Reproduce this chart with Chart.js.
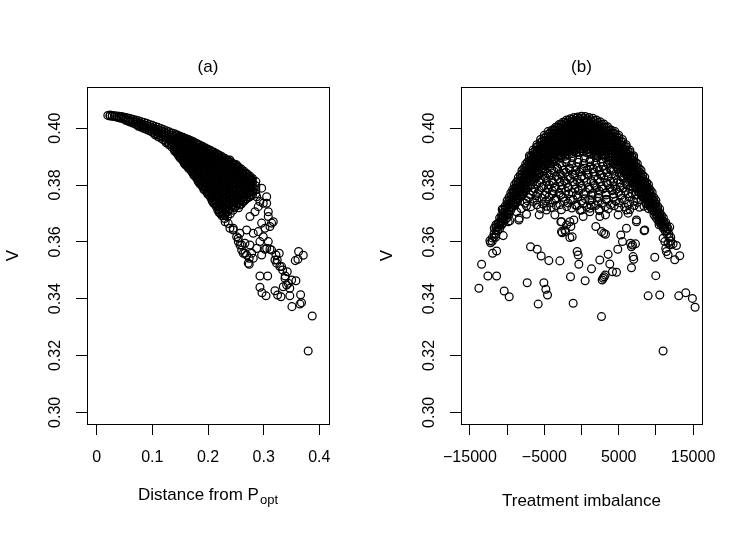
<!DOCTYPE html>
<html>
<head>
<meta charset="utf-8">
<script src="https://cdn.jsdelivr.net/npm/chart.js@4.4.1/dist/chart.umd.min.js"></script>
<style>
  html, body { margin: 0; padding: 0; background: #fff; }
  #wrap { position: relative; width: 747px; height: 534px; }
  .panel { position: absolute; top: 0; height: 534px; }
  #pa { left: 0; width: 373px; }
  #pb { left: 373px; width: 374px; }
</style>
</head>
<body>
<div id="wrap">
  <div class="panel" id="pa"><canvas id="ca"></canvas></div>
  <div class="panel" id="pb"><canvas id="cb"></canvas></div>
</div>
<script>
// Two R-style scatter panels: V against distance from P_opt (a) and against treatment imbalance (b).

const FONT = '"Liberation Sans", Arial, Helvetica, sans-serif';

// shared y axis
const vTicks = [0.30, 0.32, 0.34, 0.36, 0.38, 0.40];
const vTickLabels = ['0.30', '0.32', '0.34', '0.36', '0.38', '0.40'];

// panel (a) x axis
const distTicks = [0, 0.1, 0.2, 0.3, 0.4];
const distTickLabels = ['0', '0.1', '0.2', '0.3', '0.4'];

// panel (b) x axis (R drops every other label)
const imbTicks = [-15000, -10000, -5000, 0, 5000, 10000, 15000];
const imbTickLabels = ['\u221215000', '', '\u22125000', '', '5000', '', '15000'];

// (a) dense band, read column by column: [distance, [V, ...]]
const distCore = [
  [0.020, [0.4045]],
  [0.024, [0.4046, 0.4043]],
  [0.028, [0.4045, 0.4042]],
  [0.032, [0.4044, 0.4041]],
  [0.036, [0.4043, 0.4039]],
  [0.040, [0.4042, 0.4037]],
  [0.044, [0.4041, 0.4035]],
  [0.048, [0.4039, 0.4033]],
  [0.052, [0.4038, 0.4031, 0.4028]],
  [0.056, [0.4036, 0.4029, 0.4025]],
  [0.060, [0.4034, 0.4027, 0.4022]],
  [0.065, [0.4031, 0.4024, 0.4018]],
  [0.070, [0.4029, 0.4021, 0.4014]],
  [0.075, [0.4026, 0.4018, 0.4011, 0.4007]],
  [0.080, [0.4023, 0.4015, 0.4008, 0.4003]],
  [0.085, [0.4020, 0.4012, 0.4005, 0.3999]],
  [0.090, [0.4017, 0.4009, 0.4001, 0.3995]],
  [0.095, [0.4013, 0.4005, 0.3997, 0.3991]],
  [0.100, [0.4010, 0.4002, 0.3994, 0.3986]],
  [0.105, [0.4006, 0.3998, 0.3990, 0.3982, 0.3977]],
  [0.110, [0.4003, 0.3995, 0.3986, 0.3978, 0.3971]],
  [0.115, [0.3999, 0.3991, 0.3982, 0.3973, 0.3965]],
  [0.120, [0.3995, 0.3987, 0.3978, 0.3968, 0.3959]],
  [0.125, [0.3991, 0.3982, 0.3973, 0.3963, 0.3954, 0.3949]],
  [0.130, [0.3987, 0.3978, 0.3968, 0.3958, 0.3948, 0.3942]],
  [0.135, [0.3983, 0.3974, 0.3964, 0.3953, 0.3942, 0.3934]],
  [0.140, [0.3980, 0.3970, 0.3959, 0.3948, 0.3937, 0.3926, 0.3920]],
  [0.145, [0.3976, 0.3965, 0.3954, 0.3943, 0.3931, 0.3920, 0.3910]],
  [0.150, [0.3972, 0.3961, 0.3950, 0.3938, 0.3926, 0.3914, 0.3903, 0.3895]],
  [0.155, [0.3968, 0.3957, 0.3945, 0.3933, 0.3920, 0.3908, 0.3896, 0.3885]],
  [0.160, [0.3964, 0.3952, 0.3940, 0.3927, 0.3914, 0.3901, 0.3888, 0.3876, 0.3870]],
  [0.165, [0.3960, 0.3948, 0.3935, 0.3922, 0.3908, 0.3895, 0.3881, 0.3868, 0.3859]],
  [0.170, [0.3956, 0.3943, 0.3930, 0.3916, 0.3902, 0.3888, 0.3874, 0.3861, 0.3849]],
  [0.175, [0.3951, 0.3938, 0.3925, 0.3911, 0.3896, 0.3882, 0.3867, 0.3853, 0.3840, 0.3833]],
  [0.180, [0.3946, 0.3933, 0.3920, 0.3905, 0.3891, 0.3876, 0.3861, 0.3846, 0.3832, 0.3822]],
  [0.185, [0.3941, 0.3928, 0.3915, 0.3900, 0.3885, 0.3870, 0.3855, 0.3840, 0.3825, 0.3812, 0.3805]],
  [0.190, [0.3936, 0.3923, 0.3910, 0.3895, 0.3880, 0.3864, 0.3849, 0.3833, 0.3818, 0.3804, 0.3795]],
  [0.195, [0.3931, 0.3918, 0.3905, 0.3890, 0.3874, 0.3858, 0.3842, 0.3826, 0.3811, 0.3796, 0.3784]],
  [0.200, [0.3926, 0.3913, 0.3900, 0.3885, 0.3869, 0.3853, 0.3837, 0.3820, 0.3804, 0.3789, 0.3775, 0.3767]],
  [0.205, [0.3921, 0.3908, 0.3895, 0.3880, 0.3864, 0.3847, 0.3831, 0.3814, 0.3798, 0.3782, 0.3767, 0.3755]],
  [0.210, [0.3916, 0.3903, 0.3890, 0.3875, 0.3859, 0.3842, 0.3825, 0.3808, 0.3791, 0.3775, 0.3759, 0.3744, 0.3736]],
  [0.215, [0.3911, 0.3898, 0.3885, 0.3870, 0.3853, 0.3836, 0.3819, 0.3802, 0.3785, 0.3768, 0.3752, 0.3736, 0.3724]],
  [0.220, [0.3906, 0.3893, 0.3880, 0.3865, 0.3848, 0.3831, 0.3814, 0.3796, 0.3779, 0.3762, 0.3745, 0.3728, 0.3713, 0.3703]],
  [0.225, [0.3900, 0.3887, 0.3874, 0.3859, 0.3842, 0.3825, 0.3808, 0.3790, 0.3772, 0.3755, 0.3738, 0.3720, 0.3704, 0.3692]],
  [0.230, [0.3894, 0.3881, 0.3868, 0.3853, 0.3837, 0.3820, 0.3802, 0.3784, 0.3766, 0.3748, 0.3731, 0.3713, 0.3696, 0.3682]],
  [0.235, [0.3888, 0.3875, 0.3862, 0.3847, 0.3831, 0.3814, 0.3796, 0.3778, 0.3760, 0.3742, 0.3724, 0.3706, 0.3689]],
  [0.240, [0.3882, 0.3869, 0.3856, 0.3841, 0.3825, 0.3808, 0.3790, 0.3772, 0.3754, 0.3736, 0.3717, 0.3699]],
  [0.245, [0.3876, 0.3863, 0.3850, 0.3835, 0.3819, 0.3802, 0.3785, 0.3767, 0.3749, 0.3730, 0.3711]],
  [0.250, [0.3870, 0.3857, 0.3843, 0.3828, 0.3812, 0.3796, 0.3779, 0.3761, 0.3743, 0.3725]],
  [0.255, [0.3863, 0.3850, 0.3836, 0.3821, 0.3806, 0.3790, 0.3773, 0.3755, 0.3738, 0.3720]],
  [0.260, [0.3856, 0.3843, 0.3829, 0.3814, 0.3799, 0.3783, 0.3767, 0.3750, 0.3733]],
  [0.265, [0.3848, 0.3835, 0.3821, 0.3806, 0.3791, 0.3776, 0.3760, 0.3744]],
  [0.270, [0.3840, 0.3826, 0.3812, 0.3798, 0.3783, 0.3768, 0.3752]],
  [0.275, [0.3832, 0.3818, 0.3803, 0.3789, 0.3774, 0.3759]],
  [0.280, [0.3823, 0.3809, 0.3795, 0.3780, 0.3766]],
  [0.286, [0.3812, 0.3797, 0.3783, 0.3769]],
];

// (a) circles sitting between the columns above, where the band is solid black
const distFill = [
  [0.1425, [0.3975, 0.3964, 0.3953, 0.3941, 0.3929, 0.3917]],
  [0.1475, [0.3971, 0.3960, 0.3948, 0.3936, 0.3924, 0.3912, 0.3902]],
  [0.1525, [0.3967, 0.3955, 0.3943, 0.3931, 0.3919, 0.3906, 0.3894]],
  [0.1575, [0.3963, 0.3951, 0.3938, 0.3925, 0.3912, 0.3899, 0.3886, 0.3876]],
  [0.1625, [0.3959, 0.3946, 0.3933, 0.3920, 0.3906, 0.3893, 0.3879, 0.3867]],
  [0.1675, [0.3954, 0.3941, 0.3928, 0.3914, 0.3900, 0.3886, 0.3872, 0.3858]],
  [0.1725, [0.3950, 0.3937, 0.3923, 0.3909, 0.3894, 0.3880, 0.3866, 0.3852, 0.3842]],
  [0.1775, [0.3945, 0.3932, 0.3918, 0.3903, 0.3889, 0.3874, 0.3859, 0.3845, 0.3832]],
  [0.1825, [0.3940, 0.3927, 0.3913, 0.3898, 0.3883, 0.3868, 0.3853, 0.3838, 0.3824, 0.3812]],
  [0.1875, [0.3935, 0.3922, 0.3908, 0.3893, 0.3878, 0.3862, 0.3847, 0.3831, 0.3816, 0.3802]],
  [0.1925, [0.3930, 0.3917, 0.3903, 0.3888, 0.3872, 0.3856, 0.3840, 0.3825, 0.3809, 0.3794, 0.3784]],
  [0.1975, [0.3925, 0.3912, 0.3898, 0.3883, 0.3867, 0.3851, 0.3834, 0.3818, 0.3802, 0.3787, 0.3775]],
  [0.2025, [0.3920, 0.3907, 0.3893, 0.3878, 0.3861, 0.3845, 0.3828, 0.3812, 0.3795, 0.3779, 0.3764]],
  [0.2075, [0.3915, 0.3902, 0.3888, 0.3872, 0.3856, 0.3839, 0.3822, 0.3805, 0.3789, 0.3772, 0.3756, 0.3744]],
  [0.2125, [0.3910, 0.3897, 0.3883, 0.3867, 0.3851, 0.3834, 0.3816, 0.3799, 0.3782, 0.3765, 0.3748, 0.3733]],
  [0.2175, [0.3905, 0.3892, 0.3878, 0.3862, 0.3845, 0.3828, 0.3811, 0.3793, 0.3776, 0.3758, 0.3741, 0.3724, 0.3712]],
  [0.2225, [0.3899, 0.3886, 0.3872, 0.3856, 0.3839, 0.3822, 0.3805, 0.3787, 0.3769, 0.3751, 0.3734, 0.3716, 0.3700]],
  [0.2275, [0.3893, 0.3880, 0.3866, 0.3850, 0.3834, 0.3816, 0.3799, 0.3781, 0.3763, 0.3745, 0.3727, 0.3709, 0.3692]],
  [0.2325, [0.3887, 0.3874, 0.3860, 0.3844, 0.3828, 0.3811, 0.3793, 0.3775, 0.3757, 0.3739, 0.3720, 0.3702]],
  [0.2375, [0.3881, 0.3868, 0.3854, 0.3838, 0.3822, 0.3805, 0.3787, 0.3769, 0.3751, 0.3732, 0.3713]],
  [0.2425, [0.3875, 0.3862, 0.3848, 0.3832, 0.3816, 0.3799, 0.3781, 0.3763, 0.3745, 0.3726]],
  [0.2475, [0.3869, 0.3856, 0.3842, 0.3826, 0.3810, 0.3793, 0.3776, 0.3758, 0.3740, 0.3721]],
  [0.2525, [0.3862, 0.3849, 0.3835, 0.3820, 0.3804, 0.3787, 0.3770, 0.3752, 0.3734]],
  [0.2575, [0.3855, 0.3842, 0.3828, 0.3813, 0.3797, 0.3781, 0.3764, 0.3747, 0.3730]],
  [0.2625, [0.3848, 0.3834, 0.3820, 0.3805, 0.3790, 0.3774, 0.3758, 0.3741]],
  [0.2675, [0.3840, 0.3826, 0.3812, 0.3797, 0.3782, 0.3766, 0.3750]],
  [0.2725, [0.3831, 0.3817, 0.3803, 0.3788, 0.3773, 0.3757]],
  [0.2775, [0.3822, 0.3808, 0.3794, 0.3779, 0.3764]],
];

// (a) single circles outside the band: [distance, V]
const distLoose = [
  [0.3873, 0.3339], [0.3800, 0.3216], [0.3508, 0.3372], [0.3652, 0.3381], [0.3680, 0.3386],
  [0.3664, 0.3414], [0.3470, 0.3410], [0.3580, 0.3463], [0.3424, 0.3495], [0.3388, 0.3480],
  [0.3628, 0.3566], [0.3712, 0.3553], [0.3568, 0.3534], [0.3616, 0.3539], [0.2933, 0.3480],
  [0.3072, 0.3480], [0.2933, 0.3440], [0.2970, 0.3421], [0.3042, 0.3410], [0.3203, 0.3428],
  [0.3251, 0.3413], [0.3311, 0.3407], [0.3470, 0.3437], [0.3442, 0.3454], [0.3341, 0.3501],
  [0.3292, 0.3513], [0.3244, 0.3536], [0.3221, 0.3554], [0.3280, 0.3560], [0.3143, 0.3571],
  [0.3113, 0.3574], [0.2741, 0.3521], [0.2813, 0.3542], [0.2964, 0.3554], [0.3023, 0.3574],
  [0.2784, 0.3560], [0.2634, 0.3560], [0.2574, 0.3589], [0.2964, 0.3789], [0.3054, 0.3759],
  [0.2993, 0.3736], [0.3083, 0.3706], [0.3143, 0.3666], [0.3113, 0.3654], [0.3173, 0.3671],
  [0.2784, 0.3818], [0.2634, 0.3836], [0.2308, 0.3671], [0.2364, 0.3665], [0.2515, 0.3618],
  [0.2544, 0.3601], [0.2605, 0.3571], [0.2694, 0.3554], [0.2664, 0.3595], [0.2754, 0.3589],
  [0.2874, 0.3577], [0.2933, 0.3601], [0.3054, 0.3577], [0.2813, 0.3630], [0.2903, 0.3636],
  [0.2993, 0.3618], [0.3083, 0.3601], [0.3023, 0.3648], [0.2964, 0.3666], [0.2694, 0.3642],
  [0.2574, 0.3630], [0.2454, 0.3648], [0.2394, 0.3648], [0.2754, 0.3689], [0.2844, 0.3706],
  [0.2903, 0.3724], [0.2933, 0.3742], [0.2874, 0.3759], [0.2813, 0.3777], [0.2723, 0.3800],
  [0.3054, 0.3736], [0.3083, 0.3689], [0.3203, 0.3536], [0.3323, 0.3513], [0.3383, 0.3472],
  [0.3503, 0.3466], [0.3413, 0.3448], [0.3352, 0.3442], [0.3233, 0.3525], [0.2454, 0.3642],
  [0.2544, 0.3613], [0.2605, 0.3589], [0.2664, 0.3560], [0.2741, 0.3542], [0.2723, 0.3525],
  [0.2574, 0.3853], [0.2513, 0.3871], [0.2502, 0.3839], [0.2394, 0.3888], [0.2334, 0.3877],
];

// (b) dense dome, read column by column: [imbalance, [V, ...]]
const imbCore = [
  [-12000, [0.3614, 0.3602]],
  [-11500, [0.3651, 0.3639, 0.3627]],
  [-11000, [0.3684, 0.3671, 0.3659, 0.3647]],
  [-10500, [0.3714, 0.3703, 0.3690, 0.3678, 0.3667]],
  [-10000, [0.3745, 0.3733, 0.3721, 0.3708, 0.3697, 0.3685]],
  [-9500, [0.3772, 0.3761, 0.3749, 0.3737, 0.3724, 0.3712]],
  [-9000, [0.3801, 0.3789, 0.3777, 0.3764, 0.3752, 0.3740, 0.3729]],
  [-8500, [0.3826, 0.3814, 0.3802, 0.3790, 0.3777, 0.3765, 0.3754]],
  [-8000, [0.3851, 0.3839, 0.3827, 0.3815, 0.3802, 0.3790, 0.3778, 0.3767]],
  [-7500, [0.3873, 0.3862, 0.3849, 0.3837, 0.3825, 0.3813, 0.3801, 0.3789]],
  [-7000, [0.3896, 0.3884, 0.3871, 0.3859, 0.3847, 0.3835, 0.3823, 0.3811]],
  [-6500, [0.3914, 0.3903, 0.3891, 0.3878, 0.3866, 0.3854, 0.3842, 0.3830]],
  [-6000, [0.3934, 0.3922, 0.3910, 0.3898, 0.3886, 0.3873, 0.3861, 0.3849, 0.3837]],
  [-5500, [0.3950, 0.3939, 0.3927, 0.3915, 0.3902, 0.3890, 0.3878, 0.3866]],
  [-5000, [0.3966, 0.3954, 0.3942, 0.3930, 0.3918, 0.3906, 0.3893, 0.3881, 0.3869]],
  [-4500, [0.3979, 0.3968, 0.3956, 0.3944, 0.3931, 0.3919, 0.3907, 0.3895, 0.3883]],
  [-4000, [0.3993, 0.3981, 0.3969, 0.3957, 0.3945, 0.3933, 0.3921, 0.3909, 0.3897, 0.3885]],
  [-3500, [0.4003, 0.3992, 0.3980, 0.3968, 0.3955, 0.3943, 0.3931, 0.3919, 0.3907]],
  [-3000, [0.4013, 0.4001, 0.3989, 0.3977, 0.3965, 0.3953, 0.3941, 0.3929, 0.3917, 0.3905]],
  [-2500, [0.4021, 0.4010, 0.3998, 0.3986, 0.3973, 0.3961, 0.3949, 0.3937, 0.3925, 0.3913]],
  [-2000, [0.4029, 0.4017, 0.4005, 0.3993, 0.3981, 0.3969, 0.3957, 0.3945, 0.3933, 0.3921, 0.3909]],
  [-1500, [0.4033, 0.4022, 0.4010, 0.3998, 0.3985, 0.3973, 0.3961, 0.3949, 0.3937, 0.3925]],
  [-1000, [0.4038, 0.4026, 0.4014, 0.4002, 0.3990, 0.3978, 0.3966, 0.3954, 0.3942, 0.3930, 0.3918]],
  [-500, [0.4039, 0.4028, 0.4016, 0.4004, 0.3991, 0.3979, 0.3967, 0.3955, 0.3943, 0.3931]],
  [0, [0.4042, 0.4030, 0.4018, 0.4006, 0.3994, 0.3982, 0.3970, 0.3958, 0.3946, 0.3934, 0.3922]],
  [500, [0.4041, 0.4027, 0.4015, 0.4003, 0.3992, 0.3980, 0.3968, 0.3956, 0.3944, 0.3932]],
  [1000, [0.4038, 0.4025, 0.4013, 0.4001, 0.3989, 0.3977, 0.3965, 0.3953, 0.3941, 0.3929, 0.3917]],
  [1500, [0.4035, 0.4021, 0.4009, 0.3997, 0.3986, 0.3974, 0.3962, 0.3950, 0.3938, 0.3926]],
  [2000, [0.4029, 0.4016, 0.4004, 0.3992, 0.3980, 0.3968, 0.3956, 0.3944, 0.3932, 0.3920, 0.3908]],
  [2500, [0.4023, 0.4009, 0.3997, 0.3985, 0.3974, 0.3962, 0.3950, 0.3938, 0.3926, 0.3914]],
  [3000, [0.4015, 0.4002, 0.3990, 0.3978, 0.3966, 0.3954, 0.3942, 0.3930, 0.3918, 0.3906]],
  [3500, [0.4005, 0.3991, 0.3979, 0.3967, 0.3956, 0.3944, 0.3932, 0.3920, 0.3908]],
  [4000, [0.3994, 0.3982, 0.3970, 0.3958, 0.3946, 0.3934, 0.3922, 0.3910, 0.3898, 0.3886]],
  [4500, [0.3981, 0.3967, 0.3955, 0.3943, 0.3932, 0.3920, 0.3908, 0.3896, 0.3884]],
  [5000, [0.3967, 0.3955, 0.3943, 0.3931, 0.3919, 0.3907, 0.3894, 0.3882, 0.3870]],
  [5500, [0.3952, 0.3938, 0.3926, 0.3914, 0.3903, 0.3891, 0.3879, 0.3867]],
  [6000, [0.3935, 0.3923, 0.3911, 0.3899, 0.3887, 0.3874, 0.3862, 0.3850, 0.3838]],
  [6500, [0.3916, 0.3902, 0.3890, 0.3879, 0.3867, 0.3855, 0.3843, 0.3831]],
  [7000, [0.3897, 0.3885, 0.3872, 0.3860, 0.3848, 0.3836, 0.3824, 0.3812]],
  [7500, [0.3875, 0.3861, 0.3850, 0.3838, 0.3826, 0.3814, 0.3802, 0.3790]],
  [8000, [0.3852, 0.3840, 0.3828, 0.3816, 0.3803, 0.3791, 0.3779, 0.3768]],
  [8500, [0.3828, 0.3813, 0.3801, 0.3791, 0.3778, 0.3766, 0.3755]],
  [9000, [0.3802, 0.3790, 0.3778, 0.3765, 0.3753, 0.3741, 0.3730]],
  [9500, [0.3774, 0.3760, 0.3750, 0.3738, 0.3725, 0.3713]],
  [10000, [0.3746, 0.3734, 0.3722, 0.3709, 0.3698, 0.3686]],
  [10500, [0.3716, 0.3702, 0.3691, 0.3679, 0.3668]],
  [11000, [0.3685, 0.3672, 0.3660, 0.3648]],
  [11500, [0.3653, 0.3638, 0.3628]],
  [12000, [0.3616, 0.3603]],
];

// (b) circles sitting between the columns above, where the dome is solid black
const imbFill = [
  [-11750, [0.3630, 0.3618]],
  [-11250, [0.3664, 0.3652, 0.3640]],
  [-10750, [0.3695, 0.3683, 0.3671, 0.3659]],
  [-10250, [0.3726, 0.3714, 0.3702, 0.3690, 0.3678]],
  [-9750, [0.3756, 0.3744, 0.3732, 0.3720, 0.3708, 0.3696]],
  [-9250, [0.3784, 0.3772, 0.3760, 0.3748, 0.3736, 0.3724]],
  [-8750, [0.3810, 0.3798, 0.3786, 0.3774, 0.3762, 0.3750, 0.3738]],
  [-8250, [0.3835, 0.3823, 0.3811, 0.3799, 0.3787, 0.3775, 0.3763]],
  [-7750, [0.3859, 0.3847, 0.3835, 0.3823, 0.3811, 0.3799, 0.3787, 0.3775]],
  [-7250, [0.3881, 0.3869, 0.3857, 0.3845, 0.3833, 0.3821, 0.3809, 0.3797]],
  [-6750, [0.3902, 0.3890, 0.3878, 0.3866, 0.3854, 0.3842, 0.3830, 0.3818]],
  [-6250, [0.3921, 0.3909, 0.3897, 0.3885, 0.3873, 0.3861, 0.3849, 0.3837, 0.3825]],
  [-5750, [0.3938, 0.3926, 0.3914, 0.3902, 0.3890, 0.3878, 0.3866, 0.3854, 0.3842]],
  [-5250, [0.3955, 0.3943, 0.3931, 0.3919, 0.3907, 0.3895, 0.3883, 0.3871, 0.3859]],
  [-4750, [0.3969, 0.3957, 0.3945, 0.3933, 0.3921, 0.3909, 0.3897, 0.3885, 0.3873]],
  [-4250, [0.3983, 0.3971, 0.3959, 0.3947, 0.3935, 0.3923, 0.3911, 0.3899, 0.3887, 0.3875]],
  [-3750, [0.3995, 0.3983, 0.3971, 0.3959, 0.3947, 0.3935, 0.3923, 0.3911, 0.3899, 0.3887]],
  [-3250, [0.4005, 0.3993, 0.3981, 0.3969, 0.3957, 0.3945, 0.3933, 0.3921, 0.3909, 0.3897]],
  [-2750, [0.4014, 0.4002, 0.3990, 0.3978, 0.3966, 0.3954, 0.3942, 0.3930, 0.3918, 0.3906]],
  [-2250, [0.4021, 0.4009, 0.3997, 0.3985, 0.3973, 0.3961, 0.3949, 0.3937, 0.3925, 0.3913, 0.3901]],
  [-1750, [0.4027, 0.4015, 0.4003, 0.3991, 0.3979, 0.3967, 0.3955, 0.3943, 0.3931, 0.3919, 0.3907]],
  [-1250, [0.4031, 0.4019, 0.4007, 0.3995, 0.3983, 0.3971, 0.3959, 0.3947, 0.3935, 0.3923, 0.3911]],
  [-750, [0.4034, 0.4022, 0.4010, 0.3998, 0.3986, 0.3974, 0.3962, 0.3950, 0.3938, 0.3926, 0.3914]],
  [-250, [0.4035, 0.4023, 0.4011, 0.3999, 0.3987, 0.3975, 0.3963, 0.3951, 0.3939, 0.3927, 0.3915]],
  [250, [0.4036, 0.4024, 0.4012, 0.4000, 0.3988, 0.3976, 0.3964, 0.3952, 0.3940, 0.3928, 0.3916]],
  [750, [0.4033, 0.4021, 0.4009, 0.3997, 0.3985, 0.3973, 0.3961, 0.3949, 0.3937, 0.3925, 0.3913]],
  [1250, [0.4030, 0.4018, 0.4006, 0.3994, 0.3982, 0.3970, 0.3958, 0.3946, 0.3934, 0.3922, 0.3910]],
  [1750, [0.4026, 0.4014, 0.4002, 0.3990, 0.3978, 0.3966, 0.3954, 0.3942, 0.3930, 0.3918, 0.3906]],
  [2250, [0.4020, 0.4008, 0.3996, 0.3984, 0.3972, 0.3960, 0.3948, 0.3936, 0.3924, 0.3912, 0.3900]],
  [2750, [0.4013, 0.4001, 0.3989, 0.3977, 0.3965, 0.3953, 0.3941, 0.3929, 0.3917, 0.3905]],
  [3250, [0.4004, 0.3992, 0.3980, 0.3968, 0.3956, 0.3944, 0.3932, 0.3920, 0.3908, 0.3896]],
  [3750, [0.3994, 0.3982, 0.3970, 0.3958, 0.3946, 0.3934, 0.3922, 0.3910, 0.3898, 0.3886]],
  [4250, [0.3982, 0.3970, 0.3958, 0.3946, 0.3934, 0.3922, 0.3910, 0.3898, 0.3886, 0.3874]],
  [4750, [0.3968, 0.3956, 0.3944, 0.3932, 0.3920, 0.3908, 0.3896, 0.3884, 0.3872]],
  [5250, [0.3954, 0.3942, 0.3930, 0.3918, 0.3906, 0.3894, 0.3882, 0.3870, 0.3858]],
  [5750, [0.3937, 0.3925, 0.3913, 0.3901, 0.3889, 0.3877, 0.3865, 0.3853, 0.3841]],
  [6250, [0.3920, 0.3908, 0.3896, 0.3884, 0.3872, 0.3860, 0.3848, 0.3836, 0.3824]],
  [6750, [0.3901, 0.3889, 0.3877, 0.3865, 0.3853, 0.3841, 0.3829, 0.3817]],
  [7250, [0.3880, 0.3868, 0.3856, 0.3844, 0.3832, 0.3820, 0.3808, 0.3796]],
  [7750, [0.3858, 0.3846, 0.3834, 0.3822, 0.3810, 0.3798, 0.3786, 0.3774]],
  [8250, [0.3834, 0.3822, 0.3810, 0.3798, 0.3786, 0.3774, 0.3762]],
  [8750, [0.3809, 0.3797, 0.3785, 0.3773, 0.3761, 0.3749, 0.3737]],
  [9250, [0.3783, 0.3771, 0.3759, 0.3747, 0.3735, 0.3723]],
  [9750, [0.3755, 0.3743, 0.3731, 0.3719, 0.3707, 0.3695]],
  [10250, [0.3725, 0.3713, 0.3701, 0.3689, 0.3677]],
  [10750, [0.3694, 0.3682, 0.3670, 0.3658]],
  [11250, [0.3662, 0.3650, 0.3638]],
  [11750, [0.3628, 0.3616]],
];

// (b) circles on the rim where the dome's shoulders sit a little wider
const imbEdge = [
  [-7000, 0.3903], [-6500, 0.3923], [-6000, 0.3942], [-5500, 0.3960], [-5000, 0.3975], [-4500, 0.3988],
  [4500, 0.3988], [5000, 0.3975], [5500, 0.3960], [6000, 0.3942], [6500, 0.3923], [7000, 0.3903],
];

// (b) open circles under the dome: [imbalance, V]
const imbMid = [
  [-3600, 0.3893], [-2800, 0.3897], [-2000, 0.3891], [-1200, 0.3896], [-400, 0.3890], [400, 0.3895],
  [1200, 0.3889], [2000, 0.3896], [2800, 0.3892], [3600, 0.3897],
  [-4500, 0.3878], [-3700, 0.3882], [-2900, 0.3876], [-2100, 0.3881], [-1300, 0.3875], [-500, 0.3880],
  [300, 0.3876], [1100, 0.3882], [1900, 0.3877], [2700, 0.3881], [3500, 0.3875], [4300, 0.3880],
  [-4200, 0.3866], [-3300, 0.3862], [-2600, 0.3868], [-1600, 0.3860], [-700, 0.3865], [300, 0.3859],
  [1200, 0.3867], [2100, 0.3861], [2900, 0.3866], [3800, 0.3858], [4700, 0.3864],
  [-5200, 0.3846], [-4600, 0.3842], [-3700, 0.3848], [-2900, 0.3840], [-2100, 0.3845], [-1200, 0.3839],
  [-300, 0.3847], [700, 0.3841], [1600, 0.3846], [2500, 0.3838], [3400, 0.3844], [4300, 0.3849],
  [5100, 0.3841], [5800, 0.3847],
  [-6200, 0.3822], [-5500, 0.3818], [-4800, 0.3825], [-4000, 0.3816], [-3100, 0.3821], [-2300, 0.3814],
  [-1500, 0.3823], [-600, 0.3817], [400, 0.3824], [1300, 0.3815], [2200, 0.3820], [3000, 0.3826],
  [3900, 0.3813], [4800, 0.3819], [5600, 0.3824], [6400, 0.3816],
  [-6800, 0.3799], [-6000, 0.3803], [-5100, 0.3796], [-4300, 0.3801], [-3500, 0.3794], [-2600, 0.3800],
  [-1800, 0.3793], [-900, 0.3802], [0, 0.3797], [900, 0.3791], [1800, 0.3799], [2700, 0.3795],
  [3600, 0.3802], [4400, 0.3797], [5200, 0.3792], [6100, 0.3800], [6900, 0.3795],
  [-7500, 0.3780], [-6500, 0.3776], [-5700, 0.3782], [-4700, 0.3774], [-3900, 0.3779], [-3000, 0.3771],
  [-2100, 0.3778], [-1200, 0.3773], [-400, 0.3781], [600, 0.3775], [1500, 0.3770], [2400, 0.3779],
  [3300, 0.3772], [4100, 0.3780], [5000, 0.3774], [5900, 0.3778], [6800, 0.3771], [7600, 0.3777],
  [-8200, 0.3760], [-7100, 0.3756], [-6100, 0.3762], [-5300, 0.3753], [-4400, 0.3758], [-3400, 0.3751],
  [-2500, 0.3757], [-1500, 0.3750], [-500, 0.3759], [500, 0.3752], [1400, 0.3748], [2300, 0.3756],
  [3300, 0.3750], [4300, 0.3758], [5400, 0.3753], [6500, 0.3759], [7400, 0.3752], [8300, 0.3757],
  [-8800, 0.3741], [-7600, 0.3736], [-6500, 0.3742], [-5200, 0.3733], [-4000, 0.3738], [-2900, 0.3731],
  [-1800, 0.3737], [-800, 0.3729], [200, 0.3735], [1300, 0.3728], [2700, 0.3736], [3900, 0.3730],
  [5100, 0.3738], [6300, 0.3732], [7500, 0.3739], [8700, 0.3734],
  [-9400, 0.3722], [-8100, 0.3717], [-6800, 0.3724], [-5500, 0.3716], [-4100, 0.3721], [-2700, 0.3713],
  [-1300, 0.3719], [-200, 0.3711], [1100, 0.3718], [2400, 0.3710], [3600, 0.3716], [5000, 0.3720],
  [6500, 0.3714], [7800, 0.3722], [9000, 0.3717],
];

// (b) more open circles between the rows above
const imbMid2 = [
  [-4900, 0.3856], [-4000, 0.3853], [-3200, 0.3857], [-2400, 0.3852], [-1600, 0.3855], [-800, 0.3851],
  [0, 0.3856], [800, 0.3853], [1600, 0.3857], [2400, 0.3851], [3200, 0.3855], [4000, 0.3852],
  [4900, 0.3856], [5600, 0.3853],
  [-5800, 0.3834], [-5000, 0.3831], [-4200, 0.3835], [-3400, 0.3830], [-2600, 0.3833], [-1800, 0.3829],
  [-900, 0.3834], [0, 0.3830], [900, 0.3835], [1800, 0.3831], [2700, 0.3834], [3600, 0.3829],
  [4500, 0.3833], [5300, 0.3830], [6100, 0.3834],
  [-6500, 0.3811], [-5600, 0.3808], [-4700, 0.3812], [-3800, 0.3807], [-2900, 0.3810], [-2000, 0.3806],
  [-1100, 0.3811], [-200, 0.3807], [700, 0.3810], [1600, 0.3806], [2500, 0.3811], [3400, 0.3808],
  [4300, 0.3812], [5200, 0.3807], [6000, 0.3810], [6800, 0.3806],
  [-7200, 0.3790], [-6300, 0.3787], [-5400, 0.3791], [-4500, 0.3786], [-3600, 0.3789], [-2700, 0.3785],
  [-1800, 0.3790], [-900, 0.3786], [100, 0.3789], [1100, 0.3785], [2000, 0.3790], [2900, 0.3786],
  [3800, 0.3789], [4700, 0.3785], [5600, 0.3790], [6500, 0.3787], [7300, 0.3791],
  [-7800, 0.3769], [-6900, 0.3766], [-5900, 0.3770], [-4900, 0.3765], [-3900, 0.3768], [-2800, 0.3764],
  [-1700, 0.3769], [-700, 0.3765], [300, 0.3768], [1300, 0.3764], [2300, 0.3769], [3300, 0.3765],
  [4300, 0.3768], [5300, 0.3764], [6300, 0.3769], [7300, 0.3766], [8100, 0.3770],
  [-8600, 0.3749], [-7300, 0.3745], [-6000, 0.3748], [-4800, 0.3744], [-3600, 0.3747], [-2300, 0.3743],
  [-1100, 0.3748], [0, 0.3744], [1100, 0.3747], [2200, 0.3743], [3400, 0.3748], [4600, 0.3744],
  [5800, 0.3747], [7000, 0.3743], [8000, 0.3748],
  [-9000, 0.3729], [-7400, 0.3726], [-6000, 0.3730], [-4700, 0.3725], [-3400, 0.3728], [-2000, 0.3724],
  [-600, 0.3727], [700, 0.3723], [1900, 0.3728], [3200, 0.3724], [4400, 0.3727], [5800, 0.3723],
  [7100, 0.3728], [8400, 0.3725],
];

// (b) scattered circles below: [imbalance, V]
const imbLoose = [
  [-13792, 0.3437], [-13430, 0.3521], [-12583, 0.3480], [-11414, 0.3480], [-11951, 0.3560],
  [-11414, 0.3568], [-12314, 0.3604], [-12224, 0.3597], [-11548, 0.3616], [-11727, 0.3648],
  [-11504, 0.3660], [-11191, 0.3665], [-10527, 0.3622], [-10392, 0.3427], [-9720, 0.3407],
  [-9855, 0.3671], [-8418, 0.3677], [-7299, 0.3456], [-6851, 0.3583], [-5955, 0.3574],
  [-5418, 0.3550], [-5821, 0.3381], [-5060, 0.3456], [-4792, 0.3433], [-4568, 0.3413],
  [-4389, 0.3534], [-2911, 0.3533], [-2776, 0.3671], [-2597, 0.3632], [-2149, 0.3636],
  [-2015, 0.3659], [-1433, 0.3654], [-1254, 0.3618], [-1567, 0.3671], [-1478, 0.3477],
  [-1119, 0.3384], [-582, 0.3566], [-448, 0.3554], [-358, 0.3521], [492, 0.3463],
  [1343, 0.3505], [1925, 0.3654], [2462, 0.3536], [2686, 0.3636], [3000, 0.3630],
  [3224, 0.3627], [2686, 0.3337], [2776, 0.3466], [2911, 0.3472], [3045, 0.3477],
  [3179, 0.3483], [3582, 0.3556], [3806, 0.3522], [4165, 0.3495], [4702, 0.3493],
  [4881, 0.3574], [5284, 0.3624], [5508, 0.3601], [6045, 0.3648], [6582, 0.3595],
  [6716, 0.3583], [6851, 0.3589], [7254, 0.3593], [6940, 0.3548], [7030, 0.3539],
  [6716, 0.3509], [7388, 0.3671], [8418, 0.3639], [8956, 0.3410], [9850, 0.3546],
  [9984, 0.3481], [10522, 0.3413], [10433, 0.3660], [10746, 0.3665], [11056, 0.3653],
  [11327, 0.3668], [11638, 0.3645], [11866, 0.3652], [10970, 0.3613], [11194, 0.3601],
  [11638, 0.3596], [11956, 0.3590], [12314, 0.3593], [12762, 0.3587], [11418, 0.3566],
  [11638, 0.3555], [12537, 0.3537], [13209, 0.3551], [11327, 0.3577], [13074, 0.3410],
  [14015, 0.3421], [14910, 0.3401], [15268, 0.3370], [10970, 0.3216],
  [-7387, 0.3697], [-8373, 0.3683], [-9627, 0.3674], [-9855, 0.3701], [-10661, 0.3715],
  [-8731, 0.3706], [-5686, 0.3695], [-4698, 0.3712], [-3582, 0.3695], [-2686, 0.3671],
  [-2686, 0.3636], [-2239, 0.3642], [-1567, 0.3615], [-1030, 0.3677], [0, 0.3712],
  [1119, 0.3706], [224, 0.3689], [2373, 0.3715], [3224, 0.3695], [2462, 0.3689],
  [4925, 0.3695], [6045, 0.3712], [6269, 0.3701], [7388, 0.3677], [8507, 0.3642],
];

function fromColumns(cols) {
  const pts = [];
  cols.forEach(([x, ys]) => ys.forEach((y) => pts.push({ x, y })));
  return pts;
}

function fromPairs(pairs) {
  return pairs.map(([x, y]) => ({ x, y }));
}

// box, rotated y labels and the titles, the way base R draws them
function rFrame(cfg) {
  return {
    id: 'rFrame',
    afterDraw(chart) {
      const { ctx, chartArea: a, scales } = chart;
      ctx.save();
      ctx.strokeStyle = '#000';
      ctx.lineWidth = 1;
      ctx.strokeRect(a.left + 0.5, a.top + 0.5, a.right - a.left, a.bottom - a.top);

      ctx.fillStyle = '#000';
      ctx.textAlign = 'center';
      ctx.textBaseline = 'middle';
      ctx.font = `16px ${FONT}`;
      vTicks.forEach((v, i) => {
        const py = scales.y.getPixelForValue(v);
        ctx.save();
        ctx.translate(a.left - 31.5, py);
        ctx.rotate(-Math.PI / 2);
        ctx.fillText(vTickLabels[i], 0, 0);
        ctx.restore();
      });

      ctx.font = `17px ${FONT}`;
      ctx.save();
      ctx.translate(a.left - 74, (a.top + a.bottom) / 2);
      ctx.rotate(-Math.PI / 2);
      ctx.fillText('V', 0, 0);
      ctx.restore();

      const cx = (a.left + a.right) / 2;
      ctx.textBaseline = 'alphabetic';
      ctx.fillText(cfg.title, cx, 72);

      ctx.textAlign = 'left';
      ctx.font = `17px ${FONT}`;
      const w1 = ctx.measureText(cfg.xlab).width;
      let w2 = 0;
      if (cfg.xsub) {
        ctx.font = `13px ${FONT}`;
        w2 = ctx.measureText(cfg.xsub).width + 1;
      }
      const x0 = cx - (w1 + w2) / 2;
      ctx.font = `17px ${FONT}`;
      ctx.fillText(cfg.xlab, x0, cfg.xlabY);
      if (cfg.xsub) {
        ctx.font = `13px ${FONT}`;
        ctx.fillText(cfg.xsub, x0 + w1 + 1, cfg.xlabY + 4.5);
      }
      ctx.restore();
    },
  };
}

function mountPanel(canvasId, points, xr, frame) {
  const tickGrid = { drawOnChartArea: false, drawTicks: true, tickLength: 11, color: '#000', lineWidth: 1 };
  return new Chart(document.getElementById(canvasId), {
    type: 'scatter',
    data: {
      datasets: [
        {
          data: points,
          pointStyle: 'circle',
          pointRadius: 3.9,
          pointHoverRadius: 3.9,
          pointBorderWidth: 1.25,
          pointBorderColor: '#000',
          pointBackgroundColor: 'rgba(0,0,0,0)',
        },
      ],
    },
    options: {
      responsive: true,
      maintainAspectRatio: false,
      animation: false,
      events: [],
      layout: { padding: { top: 87, right: xr.padRight, left: 0, bottom: 0 } },
      plugins: { legend: { display: false }, tooltip: { enabled: false } },
      scales: {
        x: {
          type: 'linear',
          min: xr.min,
          max: xr.max,
          afterBuildTicks: (s) => { s.ticks = xr.ticks.map((v) => ({ value: v })); },
          afterFit: (s) => { s.height = 110; },
          grid: tickGrid,
          border: { display: false },
          ticks: {
            autoSkip: false,
            maxRotation: 0,
            minRotation: 0,
            padding: 13,
            color: '#000',
            font: { family: FONT, size: 16 },
            callback: (v, i) => xr.labels[i],
          },
        },
        y: {
          type: 'linear',
          min: 0.2959,
          max: 0.4145,
          afterBuildTicks: (s) => { s.ticks = vTicks.map((v) => ({ value: v })); },
          afterFit: (s) => { s.width = xr.yWidth; },
          grid: tickGrid,
          border: { display: false },
          ticks: { color: 'rgba(0,0,0,0)', font: { family: FONT, size: 16 } },
        },
      },
    },
    plugins: [rFrame(frame)],
  });
}

mountPanel(
  'ca',
  fromColumns(distCore).concat(fromColumns(distFill), fromPairs(distLoose)),
  { min: -0.0174, max: 0.4174, ticks: distTicks, labels: distTickLabels, padRight: 44, yWidth: 87 },
  { title: '(a)', xlab: 'Distance from P', xsub: 'opt', xlabY: 499.5 }
);

mountPanel(
  'cb',
  fromColumns(imbCore).concat(
    fromColumns(imbFill),
    fromPairs(imbEdge),
    fromPairs(imbMid),
    fromPairs(imbMid2),
    fromPairs(imbLoose)
  ),
  { min: -16200, max: 16200, ticks: imbTicks, labels: imbTickLabels, padRight: 45, yWidth: 88 },
  { title: '(b)', xlab: 'Treatment imbalance', xsub: '', xlabY: 506 }
);
</script>
</body>
</html>
